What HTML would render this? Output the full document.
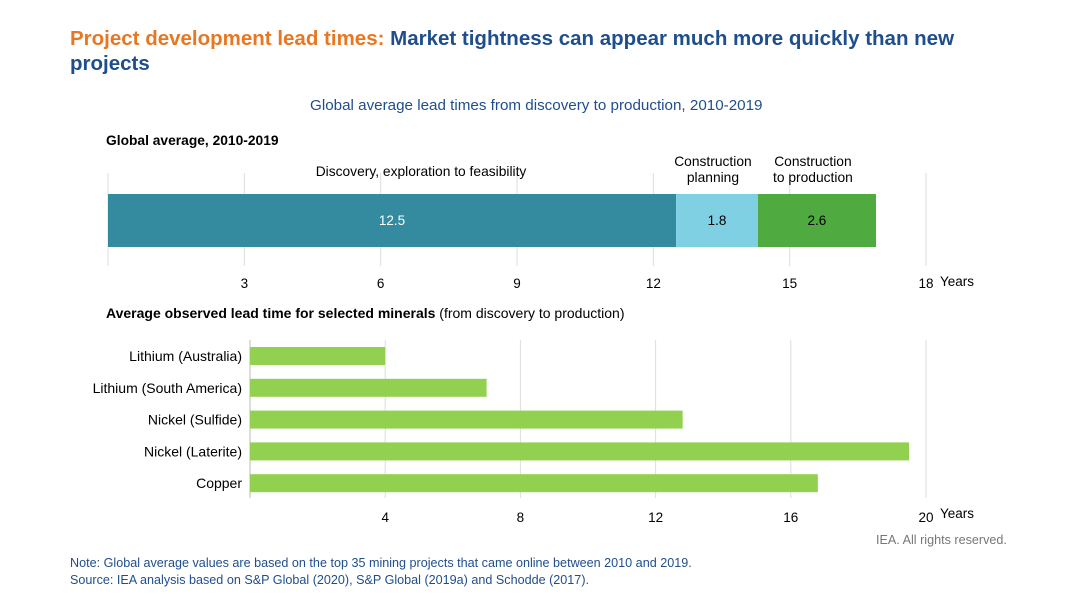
<!DOCTYPE html>
<html><head><meta charset="utf-8"><style>
body{margin:0;width:1080px;height:602px;background:#fff;font-family:"Liberation Sans",sans-serif;overflow:hidden;position:relative}
.t{position:absolute;white-space:nowrap}
</style></head><body>
<div class="t" style="left:70px;top:26px;font-size:20.5px;font-weight:bold;line-height:25px;color:#1f4e8c">
<span style="color:#e87722">Project development lead times:</span> Market tightness can appear much more quickly than new<br>projects</div>
<div class="t" style="left:310px;top:97px;font-size:15.2px;color:#1f4e8c">Global average lead times from discovery to production, 2010-2019</div>
<div class="t" style="left:106px;top:133px;font-size:13.8px;font-weight:bold;color:#000">Global average, 2010-2019</div>
<div class="t" style="left:106px;top:305px;font-size:14px;color:#000"><b>Average observed lead time for selected minerals</b> (from discovery to production)</div>
<div class="t" style="left:70px;top:555px;font-size:12.6px;line-height:17px;color:#1f4e8c">Note: Global average values are based on the top 35 mining projects that came online between 2010 and 2019.<br>Source: IEA analysis based on S&amp;P Global (2020), S&amp;P Global (2019a) and Schodde (2017).</div>
<div class="t" style="left:876px;top:533px;font-size:12.6px;color:#777">IEA. All rights reserved.</div>
<svg id="c" width="1080" height="602" style="position:absolute;left:0;top:0" font-family="Liberation Sans, sans-serif"></svg>
<script>
const stageNames=["Discovery, exploration to feasibility","Construction planning","Construction to production"];
const stageValues=[12.5,1.8,2.6];
const stageColors=["#348a9f","#7fd0e3","#4fab3f"];
const topTicks=[3,6,9,12,15,18];
const minerals=["Lithium (Australia)","Lithium (South America)","Nickel (Sulfide)","Nickel (Laterite)","Copper"];
const mineralValues=[4.0,7.0,12.8,19.5,16.8];
const botTicks=[4,8,12,16,20];
const svg=document.getElementById('c');const NS="http://www.w3.org/2000/svg";
function mk(tag,a,txt){const e=document.createElementNS(NS,tag);for(const k in a)e.setAttribute(k,a[k]);if(txt!=null)e.textContent=txt;svg.appendChild(e);return e;}
const xT=v=>108+v*(926-108)/18;
const xB=v=>250+v*(926-250)/20;
[0,...topTicks].forEach(t=>{const l=mk('line',{x1:xT(t),x2:xT(t),y1:173,y2:266,stroke:'#dcdcdc','stroke-width':1});
});
topTicks.forEach(t=>{const e=mk('text',{x:xT(t),y:288,'text-anchor':'middle','font-size':13.5,fill:'#000'},t);
});
let yr=mk('text',{x:940,y:286,'font-size':13.5,fill:'#000'},'Years');
let acc=0;
stageValues.forEach((v,i)=>{const x0=xT(acc),x1=xT(acc+v);
const r=mk('rect',{x:x0,y:194,width:x1-x0,height:53,fill:stageColors[i]});

const tl=mk('text',{x:(x0+x1)/2,y:225,'text-anchor':'middle','font-size':13.5,fill:i==0?'#fff':'#000'},v.toFixed(1));

const words=i==0?[stageNames[0]]:(i==1?["Construction","planning"]:["Construction","to production"]);
const cx=i==0?421:(x0+x1)/2+(i==2?-4:-4);
words.forEach((w,j)=>{const s=mk('text',{x:cx,y:(words.length==1?176:166)+j*16,'text-anchor':'middle','font-size':13.8,fill:'#000'},w);
});
acc+=v;});
botTicks.forEach(t=>{const l=mk('line',{x1:xB(t),x2:xB(t),y1:340,y2:498,stroke:'#dcdcdc','stroke-width':1});

const e=mk('text',{x:xB(t),y:522,'text-anchor':'middle','font-size':13.5,fill:'#000'},t);
});
let ax=mk('line',{x1:250,x2:250,y1:340,y2:498,stroke:'#bbb','stroke-width':1});
let yr2=mk('text',{x:940,y:518,'font-size':13.5,fill:'#000'},'Years');
minerals.forEach((m,i)=>{const y=347+i*31.8;
const r=mk('rect',{x:250,y:y,width:xB(mineralValues[i])-250,height:18,fill:'#92d050'});

const t=mk('text',{x:242,y:y+14,'text-anchor':'end','font-size':14,fill:'#000'},m);
});
</script>
</body></html>
